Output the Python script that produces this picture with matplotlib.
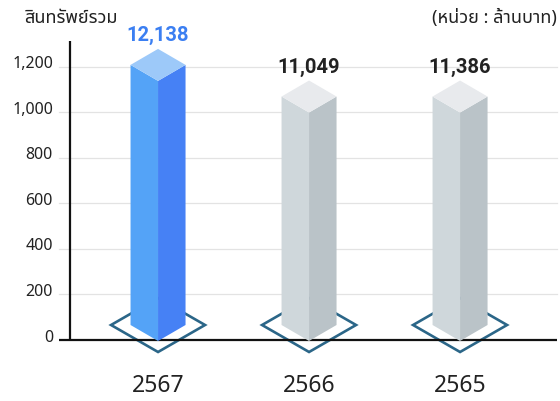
import matplotlib
matplotlib.use("Agg")
import matplotlib.pyplot as plt
from matplotlib import font_manager as fm
from matplotlib.ft2font import FT2Font
from matplotlib.patches import Polygon
import matplotlib.transforms as mtransforms

# ---------------- data ----------------
years = ["2567", "2566", "2565"]
value_labels = ["12,138", "11,049", "11,386"]
bar_heights = [1209, 1070, 1070]          # heights as drawn on the axis scale
y_ticks = [0, 200, 400, 600, 800, 1000, 1200]
y_tick_labels = ["0", "200", "400", "600", "800", "1,000", "1,200"]
title_left = "สินทรัพย์รวม"
title_right = "(หน่วย : ล้านบาท)"
highlight = [True, False, False]

# ---------------- fonts ----------------
def find_thai_family():
    preferred = ["Noto Sans Thai", "Noto Sans Thai Looped", "Sarabun", "Loma",
                 "Garuda", "Waree", "Umpush", "Kinnari", "Norasi", "Tlwg Typo"]
    found = {}
    for f in fm.fontManager.ttflist:
        if f.name in found:
            continue
        try:
            cm = FT2Font(f.fname).get_charmap()
            if 0x0E2A in cm and 0x0E19 in cm:
                found[f.name] = f.fname
        except Exception:
            pass
    for p in preferred:
        if p in found:
            return p
    return next(iter(found), None)

thai = find_thai_family()
families = ["Noto Sans"] + ([thai] if thai else []) + ["DejaVu Sans"]
plt.rcParams["font.family"] = families

# ---------------- figure ----------------
W, H = 560, 401
fig = plt.figure(figsize=(W / 100, H / 100), dpi=100)
ax_l, ax_r, ax_b, ax_t = 70, 557, 340, 41
ax = fig.add_axes([ax_l / W, (H - ax_b) / H, (ax_r - ax_l) / W, (ax_b - ax_t) / H])
xmin, xmax = -0.583, 2.642
ymin, ymax = 0, 1314
ax.set_xlim(xmin, xmax)
ax.set_ylim(ymin, ymax)
ax.axis("off")

px_x = (ax_r - ax_l) / (xmax - xmin)   # pixels per x unit
px_y = (ax_b - ax_t) / (ymax - ymin)   # pixels per y unit

# gridlines & tick labels
ext = -11 / (ax_r - ax_l)  # extend lines 11px left of axis
trans_blend = mtransforms.blended_transform_factory(ax.transAxes, ax.transData)
for v, lab in zip(y_ticks, y_tick_labels):
    if v > 0:
        ax.plot([ext, 1], [v, v], transform=trans_blend, color="#e3e3e3",
                lw=0.9, clip_on=False, zorder=0)
    off = mtransforms.offset_copy(trans_blend, fig=fig, x=0, y=-1.5, units="dots")
    ax.text(-17 / (ax_r - ax_l), v, lab, transform=off, ha="right", va="baseline",
            fontsize=11.5, color="#222222")

# axis lines
ax.plot([ext, 1], [0, 0], transform=trans_blend, color="#111111", lw=1.6,
        clip_on=False, zorder=3, solid_capstyle="butt")
ax.plot([0, 0], [0, 1], transform=ax.transAxes, color="#111111", lw=1.6,
        clip_on=False, zorder=3, solid_capstyle="butt")

# bars
hw = 27.5 / px_x
dy = 16 / px_y
base = 15 / px_y
dhw = 47 / px_x
dhh = 27 / px_y
blue = dict(left="#54a3f7", right="#4681f5", top="#9dc9f9")
grey = dict(left="#cfd7db", right="#bac3c8", top="#e8eaed")

for i, (h, hl) in enumerate(zip(bar_heights, highlight)):
    c = i
    col = blue if hl else grey
    # diamond base outline
    dia = Polygon([(c - dhw, base), (c, base + dhh), (c + dhw, base), (c, base - dhh)],
                  closed=True, fill=False, edgecolor="#2b6688", lw=1.9,
                  joinstyle="miter", zorder=2, clip_on=False)
    ax.add_patch(dia)
    left = Polygon([(c - hw, base), (c, base - dy), (c, h - dy), (c - hw, h)],
                   closed=True, facecolor=col["left"], edgecolor="none", zorder=4, clip_on=False)
    right = Polygon([(c, base - dy), (c + hw, base), (c + hw, h), (c, h - dy)],
                    closed=True, facecolor=col["right"], edgecolor="none", zorder=4, clip_on=False)
    top = Polygon([(c - hw, h), (c, h + dy), (c + hw, h), (c, h - dy)],
                  closed=True, facecolor=col["top"], edgecolor="none", zorder=5, clip_on=False)
    for p in (left, right, top):
        ax.add_patch(p)
    # value label
    off = mtransforms.offset_copy(ax.transData, fig=fig, x=0, y=8, units="dots")
    ax.text(c, h + dy, value_labels[i], transform=off, ha="center", va="baseline",
            fontsize=14.5, fontweight=600, family=["Roboto", "DejaVu Sans"],
            color="#3b7ff2" if hl else "#222222", zorder=6)
    # year label
    ax.text(c, 0, years[i], transform=mtransforms.offset_copy(ax.transData, fig=fig, x=0, y=-52, units="dots"),
            ha="center", va="baseline", fontsize=16.5, color="#222222")

fig.text(24 / W, 1 - 23 / H, title_left, ha="left", va="baseline", fontsize=13, color="#222222")
fig.text(557 / W, 1 - 23 / H, title_right, ha="right", va="baseline", fontsize=13, color="#222222")

fig.savefig("out.png", dpi=100)
